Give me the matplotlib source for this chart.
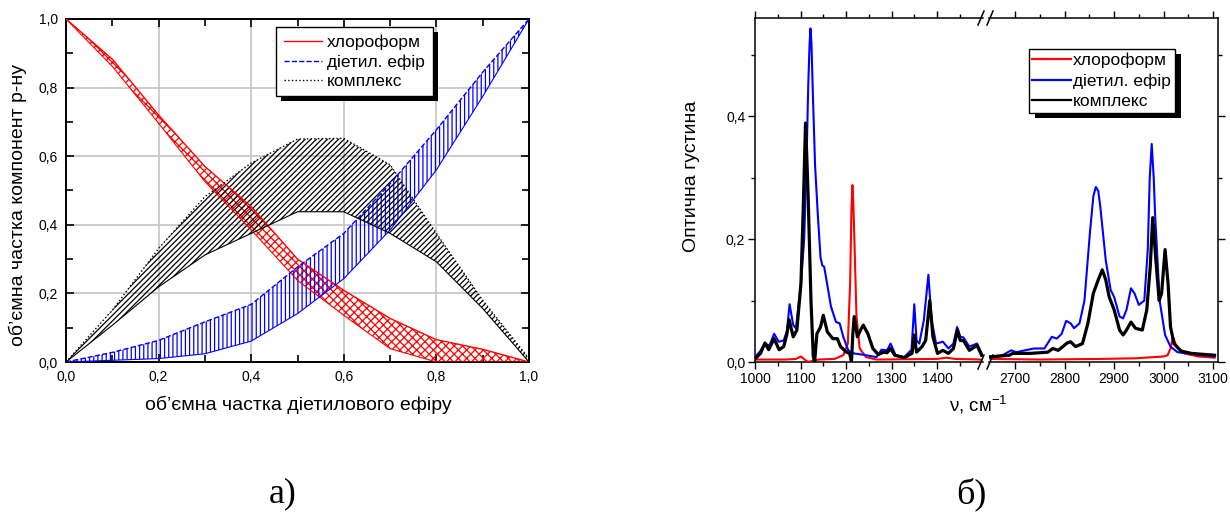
import matplotlib
matplotlib.use("Agg")
import matplotlib.pyplot as plt
from matplotlib.ticker import MultipleLocator, FixedLocator, FuncFormatter
from matplotlib.patches import Rectangle
from matplotlib.lines import Line2D
from matplotlib.transforms import IdentityTransform

plt.rcParams['font.family'] = ['Liberation Sans', 'DejaVu Sans']
plt.rcParams['mathtext.fontset'] = 'custom'
plt.rcParams['mathtext.rm'] = 'Liberation Sans'
plt.rcParams['mathtext.it'] = 'Liberation Sans'
plt.rcParams['hatch.linewidth'] = 0.9

# ---------------- panel a: composition vs ether fraction ----------------
ether_fraction = [0.0, 0.1, 0.2, 0.3, 0.4, 0.5, 0.6, 0.7, 0.8, 0.9, 1.0]
chloroform_hi = [1.0, 0.883, 0.72, 0.57, 0.453, 0.30, 0.209, 0.127, 0.065, 0.037, 0.0]
chloroform_lo = [1.0, 0.862, 0.696, 0.526, 0.385, 0.238, 0.136, 0.039, 0.0, 0.0, 0.0]
ether_hi = [0.0, 0.028, 0.063, 0.117, 0.168, 0.277, 0.375, 0.52, 0.677, 0.845, 1.0]
ether_lo = [0.0, 0.005, 0.01, 0.024, 0.061, 0.141, 0.243, 0.385, 0.56, 0.774, 1.0]
complex_hi = [0.0, 0.151, 0.331, 0.482, 0.58, 0.65, 0.652, 0.575, 0.375, 0.18, 0.01]
complex_lo = [0.0, 0.107, 0.219, 0.312, 0.375, 0.438, 0.438, 0.375, 0.292, 0.156, 0.0]

legend_labels = ['хлороформ', 'дiетил. ефір', 'комплекс']

# ---------------- panel b: IR spectra ----------------
chl_wn_lo = [1000, 1067, 1090, 1101, 1109, 1117, 1127, 1140, 1175, 1194, 1204, 1209,
             1212, 1214, 1216, 1218, 1223, 1230, 1244, 1267, 1400, 1421, 1440, 1498]
chl_a_lo = [0.004, 0.004, 0.005, 0.009, 0.004, 0.0, 0.002, 0.004, 0.005, 0.011, 0.03, 0.128,
            0.25, 0.288, 0.26, 0.21, 0.074, 0.022, 0.008, 0.004, 0.005, 0.007, 0.005, 0.004]
chl_wn_hi = [2650, 2750, 2872, 2943, 3000, 3008, 3014, 3019, 3026, 3042, 3070, 3103]
chl_a_hi = [0.005, 0.004, 0.005, 0.006, 0.009, 0.011, 0.022, 0.041, 0.025, 0.014, 0.009, 0.007]

eth_wn_lo = [1000, 1012, 1021, 1032, 1042, 1052, 1063, 1070, 1076, 1084, 1090, 1101, 1108,
             1113, 1117, 1120, 1122, 1124, 1127, 1132, 1138, 1144, 1148, 1152, 1156, 1167,
             1178, 1186, 1194, 1205, 1217, 1236, 1267, 1278, 1290, 1298, 1309, 1328, 1344,
             1350, 1355, 1361, 1371, 1381, 1388, 1398, 1413, 1425, 1436, 1444, 1451, 1458,
             1471, 1488, 1498]
eth_a_lo = [0.008, 0.018, 0.03, 0.027, 0.046, 0.033, 0.035, 0.05, 0.094, 0.06, 0.055, 0.128, 0.2,
            0.319, 0.45, 0.52, 0.543, 0.52, 0.44, 0.32, 0.24, 0.17, 0.157, 0.155, 0.138, 0.09,
            0.065, 0.063, 0.041, 0.019, 0.014, 0.012, 0.008, 0.02, 0.019, 0.03, 0.011, 0.008, 0.02,
            0.094, 0.035, 0.03, 0.068, 0.142, 0.068, 0.03, 0.033, 0.022, 0.03, 0.057, 0.041, 0.04,
            0.025, 0.03, 0.014]
eth_wn_hi = [2648, 2674, 2692, 2702, 2738, 2759, 2774, 2784, 2794, 2803, 2812, 2819, 2830, 2840,
             2851, 2858, 2863, 2868, 2872, 2883, 2893, 2900, 2911, 2918, 2925, 2934, 2941, 2950,
             2961, 2968, 2972, 2976, 2980, 2983, 2992, 3003, 3014, 3028, 3056, 3103]
eth_a_hi = [0.009, 0.011, 0.019, 0.016, 0.022, 0.022, 0.041, 0.038, 0.046, 0.067, 0.063, 0.055,
            0.063, 0.10, 0.21, 0.27, 0.285, 0.278, 0.253, 0.166, 0.117, 0.106, 0.074, 0.071, 0.085,
            0.12, 0.112, 0.093, 0.10, 0.183, 0.3, 0.355, 0.3, 0.237, 0.10, 0.044, 0.025, 0.016,
            0.013, 0.009]

cpx_wn_lo = [1000, 1012, 1022, 1030, 1042, 1053, 1063, 1070, 1075, 1084, 1092, 1101, 1106, 1111,
             1114, 1117, 1123, 1128, 1131, 1136, 1144, 1150, 1159, 1171, 1181, 1188, 1201, 1208,
             1212, 1215, 1218, 1225, 1232, 1238, 1248, 1259, 1271, 1282, 1290, 1298, 1307, 1328,
             1345, 1350, 1355, 1367, 1375, 1384, 1391, 1401, 1413, 1425, 1436, 1445, 1451, 1458,
             1471, 1488, 1498]
cpx_a_lo = [0.005, 0.014, 0.031, 0.02, 0.038, 0.02, 0.025, 0.045, 0.069, 0.041, 0.052, 0.128, 0.25,
            0.389, 0.33, 0.264, 0.10, 0.01, 0.0, 0.046, 0.057, 0.076, 0.049, 0.038, 0.038, 0.025,
            0.016, 0.014, 0.0, 0.046, 0.074, 0.041, 0.052, 0.06, 0.046, 0.022, 0.012, 0.016, 0.015,
            0.022, 0.011, 0.007, 0.014, 0.044, 0.016, 0.025, 0.035, 0.10, 0.041, 0.014, 0.019,
            0.014, 0.022, 0.052, 0.035, 0.035, 0.019, 0.027, 0.011]
cpx_wn_hi = [2648, 2688, 2695, 2730, 2766, 2776, 2787, 2805, 2812, 2822, 2836, 2847, 2858, 2868,
             2876, 2883, 2890, 2900, 2911, 2918, 2925, 2934, 2943, 2957, 2966, 2973, 2978, 2984,
             2991, 2996, 3003, 3009, 3014, 3021, 3035, 3056, 3103]
cpx_a_hi = [0.008, 0.011, 0.014, 0.014, 0.016, 0.022, 0.019, 0.031, 0.033, 0.025, 0.03, 0.063,
            0.112, 0.134, 0.15, 0.134, 0.106, 0.085, 0.052, 0.044, 0.052, 0.065, 0.055, 0.052,
            0.085, 0.155, 0.235, 0.17, 0.10, 0.112, 0.183, 0.128, 0.057, 0.03, 0.018, 0.014, 0.011]

W, H = 1230, 512


def px_axes(x0, y0, x1, y1):
    """Axes rectangle given in pixel coordinates measured from the top-left corner."""
    return [x0 / W, (H - y1) / H, (x1 - x0) / W, (y1 - y0) / H]


comma = FuncFormatter(lambda v, p: f"{v:.1f}".replace('.', ','))

fig = plt.figure(figsize=(W / 100, H / 100), dpi=100)

# ---------------- panel a ----------------
axL = fig.add_axes(px_axes(66, 19, 529, 362))
axL.set_xlim(0, 1)
axL.set_ylim(0, 1)
axL.grid(True, which='major', color='#c8c8c8', lw=1.3, zorder=0)
axL.set_axisbelow(True)

bands = [
    (chloroform_lo, chloroform_hi, 'red', 'xxxx', '-'),
    (ether_lo, ether_hi, 'blue', '||||', '--'),
    (complex_lo, complex_hi, 'black', '//////', ':'),
]
for lo, hi, col, hatch, ls in bands:
    axL.fill_between(ether_fraction, lo, hi, facecolor='none', edgecolor=col,
                     hatch=hatch, linewidth=0, zorder=2)
    axL.plot(ether_fraction, lo, color=col, lw=0.8, zorder=3)
    axL.plot(ether_fraction, hi, color=col, lw=1.0, ls=ls, zorder=3)

axL.xaxis.set_major_locator(MultipleLocator(0.2))
axL.yaxis.set_major_locator(MultipleLocator(0.2))
axL.xaxis.set_minor_locator(MultipleLocator(0.1))
axL.yaxis.set_minor_locator(MultipleLocator(0.1))
axL.xaxis.set_major_formatter(comma)
axL.yaxis.set_major_formatter(comma)
axL.tick_params(which='both', direction='in', top=True, right=True, width=1.2, labelsize=10)
axL.tick_params(which='major', length=6, pad=6)
axL.tick_params(which='minor', length=5)
for s in axL.spines.values():
    s.set_linewidth(1.4)

fig.text(298 / W, 1 - 405 / H, 'об’ємна частка діетилового ефіру', fontsize=14,
         ha='center', va='center')
fig.text(18 / W, 1 - 205 / H, 'об’ємна частка компонент р-ну', fontsize=14,
         ha='center', va='center', rotation=90)

handlesL = [Line2D([], [], color='red', lw=1.0),
            Line2D([], [], color='blue', lw=1.0, ls='--'),
            Line2D([], [], color='black', lw=1.0, ls=':')]
legL = axL.legend(handlesL, legend_labels, loc='upper left',
                  bbox_to_anchor=(276 / W, 1 - 27 / H), bbox_transform=fig.transFigure,
                  borderaxespad=0, fancybox=False, framealpha=1, edgecolor='black',
                  fontsize=12.5, handlelength=2.2, handletextpad=0.3, borderpad=0.45,
                  labelspacing=0.22)
legL.get_frame().set_linewidth(1.0)

# ---------------- panel b (broken x axis) ----------------
axA = fig.add_axes(px_axes(755, 18, 983, 362))
axB = fig.add_axes(px_axes(989, 18, 1218, 362), sharey=axA)
axA.set_xlim(1000, 1501)
axB.set_xlim(2647, 3110)
axA.set_ylim(0, 0.56)

segments = [
    (axA, chl_wn_lo, chl_a_lo, eth_wn_lo, eth_a_lo, cpx_wn_lo, cpx_a_lo),
    (axB, chl_wn_hi, chl_a_hi, eth_wn_hi, eth_a_hi, cpx_wn_hi, cpx_a_hi),
]
for ax, cw, ca, ew, ea, kw, ka in segments:
    ax.plot(cw, ca, color='red', lw=1.5, zorder=3)
    ax.plot(ew, ea, color='blue', lw=1.5, zorder=3)
    ax.plot(kw, ka, color='black', lw=2.3, zorder=4)

axA.xaxis.set_major_locator(FixedLocator([1000, 1100, 1200, 1300, 1400]))
axA.xaxis.set_minor_locator(FixedLocator([1050, 1150, 1250, 1350, 1450]))
axB.xaxis.set_major_locator(FixedLocator([2700, 2800, 2900, 3000, 3100]))
axB.xaxis.set_minor_locator(FixedLocator([2750, 2850, 2950, 3050]))
axA.yaxis.set_major_locator(MultipleLocator(0.2))
axA.yaxis.set_minor_locator(MultipleLocator(0.1))
axA.yaxis.set_major_formatter(comma)

for ax in (axA, axB):
    ax.tick_params(which='both', direction='out', top=True, width=1.0, labelsize=10)
    ax.tick_params(which='major', length=5, pad=2)
    ax.tick_params(which='minor', length=3)
    for s in ax.spines.values():
        s.set_linewidth(1.1)
axA.spines['right'].set_visible(False)
axA.tick_params(axis='y', right=False)
axB.spines['left'].set_visible(False)
axB.tick_params(axis='y', which='both', left=False, right=True, labelleft=False)

# break marks on the top and bottom axis lines
for yb in (18, 362):
    for xb in (978, 987):
        fig.add_artist(Line2D([(xb) / W, (xb + 6) / W], [1 - (yb + 7) / H, 1 - (yb - 7) / H],
                              color='black', lw=1.1))

fig.text(978 / W, 1 - 405 / H, 'ν, см$^{-1}$', fontsize=13.5, ha='center', va='center')
fig.text(692 / W, 1 - 176 / H, 'Оптична густина', fontsize=14, ha='center', va='center',
         rotation=90)

handlesR = [Line2D([], [], color='red', lw=1.6),
            Line2D([], [], color='blue', lw=1.6),
            Line2D([], [], color='black', lw=1.6)]
legR = axB.legend(handlesR, legend_labels, loc='upper left',
                  bbox_to_anchor=(1029 / W, 1 - 49 / H), bbox_transform=fig.transFigure,
                  borderaxespad=0, fancybox=False, framealpha=1, edgecolor='black',
                  fontsize=12.5, handlelength=2.2, handletextpad=0.15, borderpad=0.2,
                  labelspacing=0.3)
legR.get_frame().set_linewidth(1.0)

# panel captions
fig.text(283 / W, 1 - 494 / H, 'а)', fontsize=26, family='Liberation Serif',
         ha='center', va='center')
fig.text(971 / W, 1 - 494 / H, 'б)', fontsize=26, family='Liberation Serif',
         ha='center', va='center')

# solid drop shadows behind the legend frames
fig.canvas.draw()
for leg, (dx, dy) in ((legL, (5, 5)), (legR, (6, 5))):
    bb = leg.get_frame().get_window_extent()
    shadow = Rectangle((bb.x0 + dx, bb.y0 - dy), bb.width, bb.height,
                       transform=IdentityTransform(), facecolor='black',
                       edgecolor='none', zorder=leg.get_zorder() - 0.1, clip_on=False)
    leg.axes.add_artist(shadow)

fig.savefig('out.png', dpi=100)
